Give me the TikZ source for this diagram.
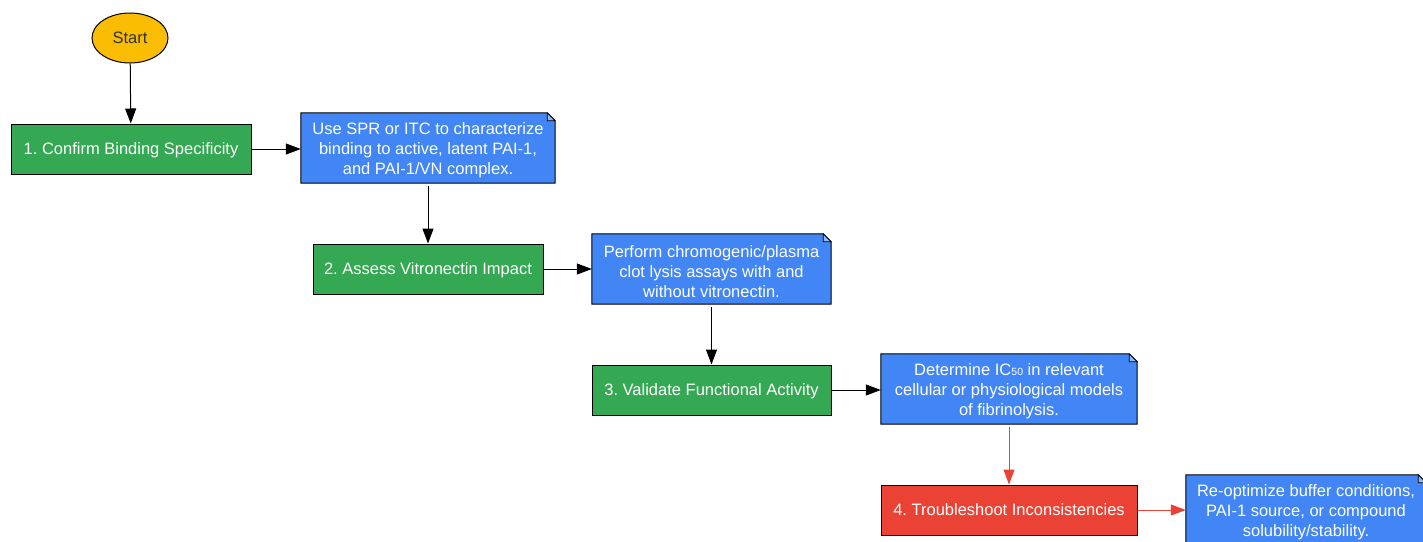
\documentclass[tikz,border=0pt]{standalone}
\usepackage{fontspec}
\setmainfont{Liberation Sans}
\frenchspacing
\usetikzlibrary{arrows.meta,shapes.geometric}
\pgfdeclarelayer{background}
\pgfsetlayers{background,main}
\definecolor{gbox}{HTML}{34A853}
\definecolor{bbox}{HTML}{4285F4}
\definecolor{rbox}{HTML}{EA4335}
\definecolor{ystart}{HTML}{FBBC04}
\begin{document}
\begin{tikzpicture}[x=1pt,y=-1pt,
  every node/.style={font=\fontsize{16.5}{20}\selectfont},
  stepbox/.style={draw=black, line width=1pt, minimum height=50pt, text=white, inner sep=2pt, text height=11.8pt, text depth=0pt},
  notebox/.style={minimum height=70pt, text=white, align=center, inner sep=2pt, yshift=-2.5pt},
  arr/.style={-{Triangle[length=15pt,width=11pt]}, line width=1pt},
  redarr/.style={arr, draw=rbox, color=rbox}
]
\useasboundingbox (0,0) rectangle (1423,541);
\node[ellipse, draw=black, line width=1pt, fill=ystart, minimum width=76pt, minimum height=50pt, inner sep=0pt, text=black!80, text height=11.8pt, text depth=0pt] (start) at (130,38) {Start};
\node[stepbox, fill=gbox, minimum width=240pt] (b1) at (131,149) {1. Confirm Binding Specificity};
\node[notebox, minimum width=254pt] (n1) at (428,148) {Use SPR or ITC to characterize\\binding to active, latent PAI-1,\\and PAI-1/VN complex.};
\node[stepbox, fill=gbox, minimum width=230pt] (b2) at (428,269) {2. Assess Vitronectin Impact};
\node[notebox, minimum width=239pt] (n2) at (711.5,269) {Perform chromogenic/plasma\\clot lysis assays with and\\without vitronectin.};
\node[stepbox, fill=gbox, minimum width=239pt] (b3) at (711.5,390) {3. Validate Functional Activity};
\node[notebox, minimum width=256pt] (n3) at (1009,389) {Determine IC{\fontsize{10.5}{10}\selectfont 50} in relevant\\cellular or physiological models\\of fibrinolysis.};
\node[stepbox, fill=rbox, minimum width=256pt] (b4) at (1009,510) {4. Troubleshoot Inconsistencies};
\node[notebox, minimum width=240pt] (n4) at (1306,510) {Re-optimize buffer conditions,\\PAI-1 source, or compound\\solubility/stability.};
\begin{pgfonlayer}{background}
\fill[white] (0,0) rectangle (1423,541);
\foreach \n in {n1,n2,n3,n4}{
  \draw[fill=bbox, draw=black, line width=1pt] ([yshift=2.5pt]\n.north west) -- ([xshift=-8pt,yshift=2.5pt]\n.north east) -- ([yshift=-5.5pt]\n.north east) -- ([yshift=2.5pt]\n.south east) -- ([yshift=2.5pt]\n.south west) -- cycle;
  \draw[fill=bbox!60!white, draw=black, line width=0.8pt] ([xshift=-8pt,yshift=2.5pt]\n.north east) -- ([xshift=-8pt,yshift=-5.5pt]\n.north east) -- ([yshift=-5.5pt]\n.north east) -- cycle;
}
\end{pgfonlayer}
\draw[arr] (start) -- (b1);
\draw[arr] (b1) -- (n1.west |- b1.east);
\draw[arr] (n1.south |- 0,185.5) -- (b2);
\draw[arr] (b2) -- (n2.west |- b2.east);
\draw[arr] (n2.south |- 0,306.5) -- (b3);
\draw[arr] (b3) -- (n3.west |- b3.east);
\draw[redarr] (n3.south |- 0,426.5) -- (b4);
\draw[redarr] (b4) -- (n4.west |- b4.east);
\end{tikzpicture}
\end{document}
